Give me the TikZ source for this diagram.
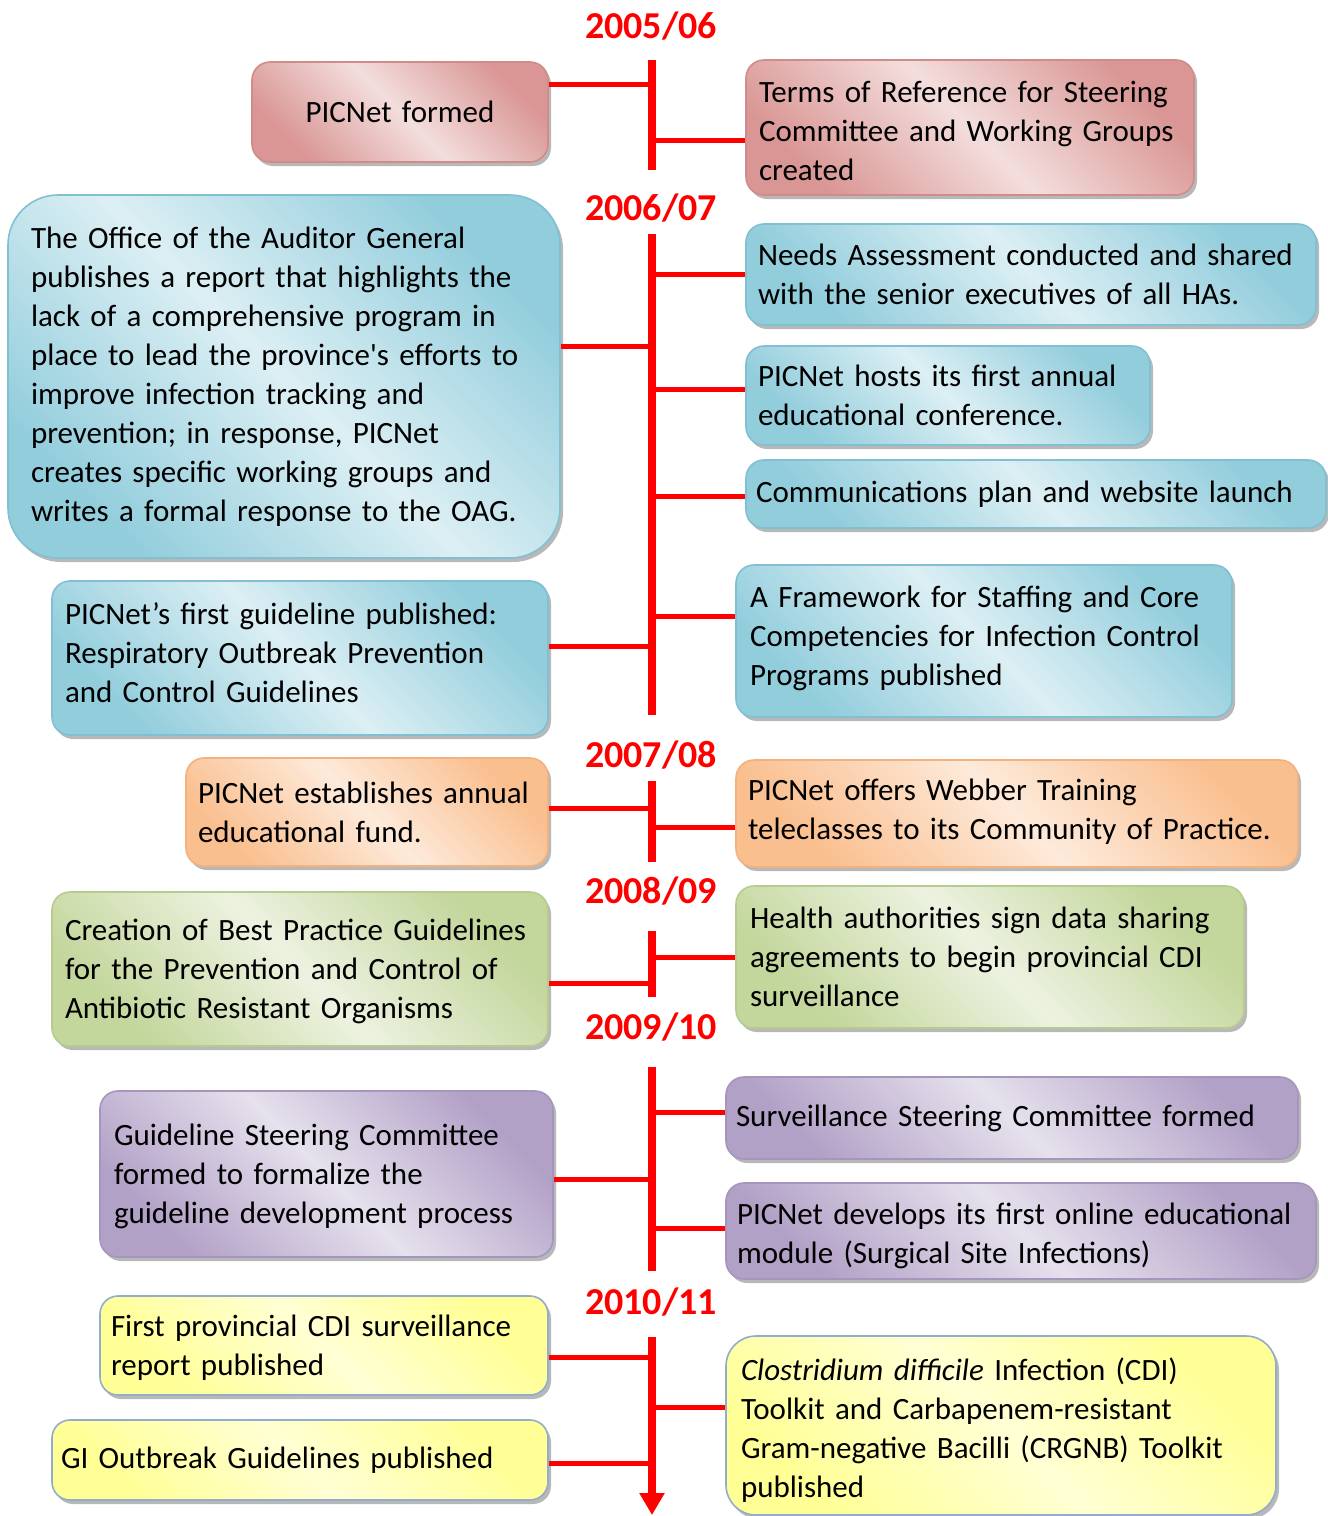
\documentclass[tikz,border=0pt]{standalone}
\usepackage{fontspec}
\setmainfont{Carlito}[Ligatures=TeXOff]
\usetikzlibrary{shadows,arrows.meta}
\definecolor{tlred}{RGB}{255,0,0}
\definecolor{rD}{RGB}{217,150,148}\definecolor{rL}{RGB}{243,222,221}\definecolor{rB}{RGB}{208,140,138}
\definecolor{bD}{RGB}{146,205,220}\definecolor{bL}{RGB}{220,239,244}\definecolor{bB}{RGB}{128,192,210}
\definecolor{oD}{RGB}{250,191,143}\definecolor{oL}{RGB}{253,234,218}\definecolor{oB}{RGB}{242,178,128}
\definecolor{gD}{RGB}{195,214,155}\definecolor{gL}{RGB}{236,242,224}\definecolor{gB}{RGB}{182,204,142}
\definecolor{pD}{RGB}{178,161,199}\definecolor{pL}{RGB}{230,225,237}\definecolor{pB}{RGB}{166,150,190}
\definecolor{yD}{RGB}{255,255,150}\definecolor{yL}{RGB}{255,255,212}\definecolor{yB}{RGB}{145,172,205}
\newcommand\evfont{\fontsize{31}{39}\selectfont\hyphenpenalty=10000\exhyphenpenalty=10000}
\newcommand\yrfont{\fontsize{38}{44}\selectfont\bfseries}
\tikzset{
  x=1pt, y=-1pt,
  ev/.style={rectangle, rounded corners=18pt, line width=1.6pt, inner ysep=0pt,
    align=left, font=\evfont,
    drop shadow={shadow xshift=3pt, shadow yshift=-4pt, fill=black, opacity=0.28}},
  tshift/.style={execute at end node={\par\vspace*{#1}}},
  redbox/.style={ev, draw=rB, top color=rD, bottom color=rD, middle color=rL, shading angle=-45},
  bluebox/.style={ev, draw=bB, top color=bD, bottom color=bD, middle color=bL, shading angle=-45},
  orangebox/.style={ev, draw=oB, top color=oD, bottom color=oD, middle color=oL, shading angle=-45},
  greenbox/.style={ev, draw=gB, top color=gD, bottom color=gD, middle color=gL, shading angle=-45},
  purplebox/.style={ev, draw=pB, top color=pD, bottom color=pD, middle color=pL, shading angle=-45},
  yellowbox/.style={ev, draw=yB, top color=yD, bottom color=yD, middle color=yL, shading angle=-45},
  year/.style={font=\yrfont, text=tlred, inner sep=0pt},
  conn/.style={draw=tlred, line width=5pt},
  tline/.style={draw=tlred, line width=8pt},
}
\begin{document}
\begin{tikzpicture}
\useasboundingbox (0,0) rectangle (1328,1516);

% year labels
\node[year] (y1) at (651,26) {2005/06};
\node[year] (y2) at (651,208) {2006/07};
\node[year] (y3) at (651,755) {2007/08};
\node[year] (y4) at (651,891) {2008/09};
\node[year] (y5) at (651,1027) {2009/10};
\node[year] (y6) at (651,1302) {2010/11};

% boxes
\node[redbox, minimum width=296pt, minimum height=100pt, text width=270pt, inner xsep=13pt, align=center] (pf) at (400,112) {PICNet formed};
\node[redbox, tshift=-6pt, minimum width=448pt, minimum height=135pt, text width=422pt, inner xsep=13pt] (tor) at (970,127.5) {Terms of Reference for Steering\\Committee and Working Groups\\created};

\node[bluebox, rounded corners=50pt, minimum width=552pt, minimum height=363pt, text width=506pt, inner xsep=23pt] (oag) at (284,376.5) {The Office of the Auditor General\\publishes a report that highlights the\\lack of a comprehensive program in\\place to lead the province's efforts to\\improve infection tracking and\\prevention; in response, PICNet\\creates specific working groups and\\writes a formal response to the OAG.};
\node[bluebox, minimum width=570pt, minimum height=101pt, text width=546pt, inner xsep=12pt] (needs) at (1031,274.5) {Needs Assessment conducted and shared\\with the senior executives of all HAs.};
\node[bluebox, minimum width=404pt, minimum height=99pt, text width=380pt, inner xsep=12pt] (hosts) at (948,395.5) {PICNet hosts its first annual\\educational conference.};
\node[bluebox, minimum width=580pt, minimum height=68pt, text width=560pt, inner xsep=10pt] (comm) at (1036,494) {Communications plan and website launch};
\node[bluebox, tshift=10pt, minimum width=496pt, minimum height=154pt, text width=470pt, inner xsep=13pt] (guide) at (300,658) {PICNet’s first guideline published:\\Respiratory Outbreak Prevention\\and Control Guidelines};
\node[bluebox, tshift=6pt, minimum width=496pt, minimum height=152pt, text width=468pt, inner xsep=14pt] (frame) at (984,641) {A Framework for Staffing and Core\\Competencies for Infection Control\\Programs published};

\node[orangebox, minimum width=362pt, minimum height=108pt, text width=338pt, inner xsep=12pt] (fund) at (367,812) {PICNet establishes annual\\educational fund.};
\node[orangebox, tshift=4pt, minimum width=562pt, minimum height=107pt, text width=538pt, inner xsep=12pt] (webber) at (1017,813.5) {PICNet offers Webber Training\\teleclasses to its Community of Practice.};

\node[greenbox, tshift=-4pt, minimum width=496pt, minimum height=154pt, text width=470pt, inner xsep=13pt] (bpg) at (300,969) {Creation of Best Practice Guidelines\\for the Prevention and Control of\\Antibiotic Resistant Organisms};
\node[greenbox, minimum width=508pt, minimum height=142pt, text width=480pt, inner xsep=14pt] (health) at (990,957) {Health authorities sign data sharing\\agreements to begin provincial CDI\\surveillance};

\node[purplebox, tshift=-4pt, minimum width=453pt, minimum height=166pt, text width=425pt, inner xsep=14pt] (gsc) at (326.5,1174) {Guideline Steering Committee\\formed to formalize the\\guideline development process};
\node[purplebox, minimum width=572pt, minimum height=82pt, text width=552pt, inner xsep=10pt] (ssc) at (1012,1118) {Surveillance Steering Committee formed};
\node[purplebox, tshift=-10pt, minimum width=590pt, minimum height=96pt, text width=568pt, inner xsep=11pt] (online) at (1021,1231) {PICNet develops its first online educational\\module (Surgical Site Infections)};

\node[yellowbox, tshift=-4pt, minimum width=448pt, minimum height=99pt, text width=426pt, inner xsep=11pt] (cdirep) at (324,1345.5) {First provincial CDI surveillance\\report published};
\node[yellowbox, minimum width=496pt, minimum height=80pt, text width=478pt, inner xsep=9pt] (gi) at (300,1460) {GI Outbreak Guidelines published};
\node[yellowbox, tshift=-10pt, rounded corners=30pt, minimum width=550pt, minimum height=179pt, text width=520pt, inner xsep=15pt] (clos) at (1001,1425.5) {\textit{Clostridium difficile} Infection (CDI)\\Toolkit and Carbapenem-resistant\\Gram-negative Bacilli (CRGNB) Toolkit\\published};

% timeline coordinates
\coordinate (a1) at (652,60);   \coordinate (b1) at (652,170);
\coordinate (a2) at (652,234);  \coordinate (b2) at (652,715);
\coordinate (a3) at (652,781);  \coordinate (b3) at (652,862);
\coordinate (a4) at (652,931);  \coordinate (b4) at (652,997);
\coordinate (a5) at (652,1067); \coordinate (b5) at (652,1271);
\coordinate (a6) at (652,1337); \coordinate (b6) at (652,1515);

\coordinate (c1) at (652,84);
\coordinate (c2) at (652,140);
\coordinate (c3) at (652,274);
\coordinate (c4) at (652,346);
\coordinate (c5) at (652,389);
\coordinate (c6) at (652,496);
\coordinate (c7) at (652,616);
\coordinate (c8) at (652,646);
\coordinate (c9) at (652,808);
\coordinate (c10) at (652,827);
\coordinate (c11) at (652,957);
\coordinate (c12) at (652,983);
\coordinate (c13) at (652,1112);
\coordinate (c14) at (652,1179);
\coordinate (c15) at (652,1228);
\coordinate (c16) at (652,1357);
\coordinate (c17) at (652,1407);
\coordinate (c18) at (652,1463);

% connectors
\draw[conn] (pf.east |- c1) -- (c1);
\draw[conn] (c2) -- (tor.west |- c2);
\draw[conn] (c3) -- (needs.west |- c3);
\draw[conn] (oag.east |- c4) -- (c4);
\draw[conn] (c5) -- (hosts.west |- c5);
\draw[conn] (c6) -- (comm.west |- c6);
\draw[conn] (c7) -- (frame.west |- c7);
\draw[conn] (guide.east |- c8) -- (c8);
\draw[conn] (fund.east |- c9) -- (c9);
\draw[conn] (c10) -- (webber.west |- c10);
\draw[conn] (c11) -- (health.west |- c11);
\draw[conn] (bpg.east |- c12) -- (c12);
\draw[conn] (c13) -- (ssc.west |- c13);
\draw[conn] (gsc.east |- c14) -- (c14);
\draw[conn] (c15) -- (online.west |- c15);
\draw[conn] (cdirep.east |- c16) -- (c16);
\draw[conn] (c17) -- (clos.west |- c17);
\draw[conn] (gi.east |- c18) -- (c18);

% timeline
\draw[tline] (a1) -- (b1);
\draw[tline] (a2) -- (b2);
\draw[tline] (a3) -- (b3);
\draw[tline] (a4) -- (b4);
\draw[tline] (a5) -- (b5);
\draw[tline, -{Triangle[width=24pt,length=22pt]}] (a6) -- (b6);
\end{tikzpicture}
\end{document}
